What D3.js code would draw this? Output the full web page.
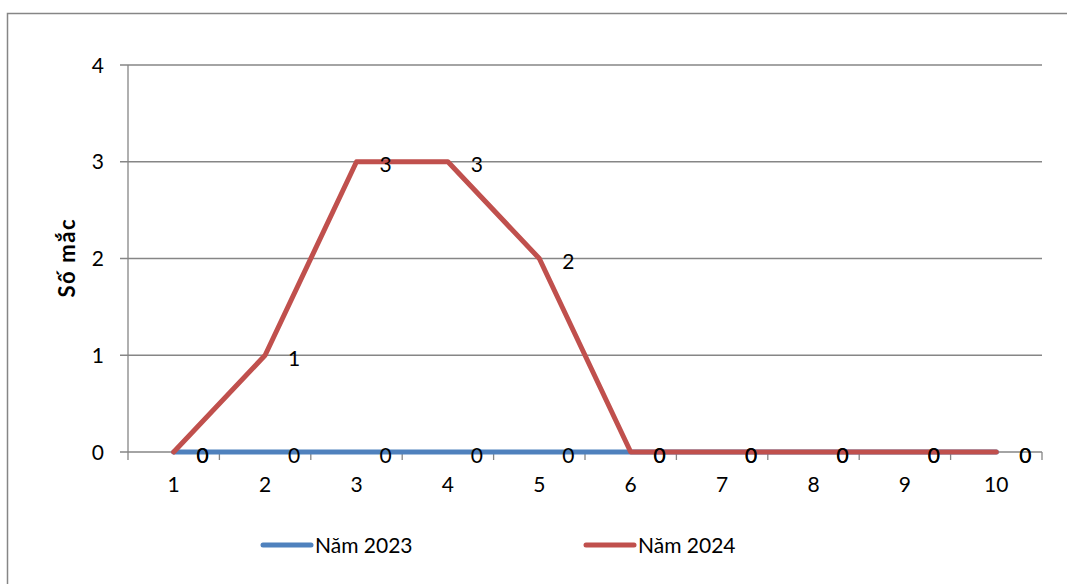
<!DOCTYPE html>
<html>
<head>
  <meta charset="UTF-8">
  <title>Số mắc</title>
  <script src="https://d3js.org/d3.v7.min.js"></script>
  <style>
    body { margin: 0; background: #fff; }
    svg { display: block; font-family: Lato, "Open Sans", sans-serif; }
    .grid line { stroke: #868686; stroke-width: 1.3px; }
    .label { font-size: 21px; fill: #000; }
    .legend text { font-size: 21px; fill: #000; }
  </style>
</head>
<body>
  <div id="chart"></div>
  <script>
    // 数据
    const categories = ["1", "2", "3", "4", "5", "6", "7", "8", "9", "10"];
    const seriesNames = ["Năm 2023", "Năm 2024"];
    const values2023 = [0, 0, 0, 0, 0, 0, 0, 0, 0, 0];
    const values2024 = [0, 1, 3, 3, 2, 0, 0, 0, 0, 0];
    const colors = ["#4F81BD", "#C0504D"];
    const yTicks = [0, 1, 2, 3, 4];

    const W = 1067, H = 584;
    const plot = {left: 128, right: 1042, top: 65, bottom: 452};

    const svg = d3.select("#chart").append("svg")
        .attr("width", W)
        .attr("height", H);

    // 外框
    svg.append("rect")
        .attr("x", 7.5).attr("y", 13.5)
        .attr("width", W + 10).attr("height", H + 10)
        .attr("fill", "none")
        .attr("stroke", "#868686")
        .attr("stroke-width", 1.5);

    const x = d3.scaleBand().domain(categories).range([plot.left, plot.right]);
    const y = d3.scaleLinear().domain([0, 4]).range([plot.bottom, plot.top]);

    // 网格线
    svg.append("g").attr("class", "grid")
      .selectAll("line").data(yTicks).join("line")
        .attr("x1", plot.left - 8).attr("x2", plot.right)
        .attr("y1", d => y(d)).attr("y2", d => y(d));

    // y 轴
    svg.append("line")
        .attr("x1", plot.left).attr("x2", plot.left)
        .attr("y1", plot.top).attr("y2", plot.bottom)
        .attr("stroke", "#868686").attr("stroke-width", 1.3);

    svg.append("g").selectAll("text").data(yTicks).join("text")
        .attr("class", "label")
        .attr("x", plot.left - 24)
        .attr("y", d => y(d))
        .attr("dy", "0.36em")
        .attr("text-anchor", "end")
        .text(d => d);

    // x 轴刻度
    const xTickPos = categories.map((c, i) => plot.left + x.step() * (i + 1));
    svg.append("g").selectAll("line").data(xTickPos).join("line")
        .attr("x1", d => d).attr("x2", d => d)
        .attr("y1", plot.bottom).attr("y2", plot.bottom + 8)
        .attr("stroke", "#868686").attr("stroke-width", 1.3);
    svg.append("line")
        .attr("x1", plot.left).attr("x2", plot.left)
        .attr("y1", plot.bottom).attr("y2", plot.bottom + 8)
        .attr("stroke", "#868686").attr("stroke-width", 1.3);

    svg.append("g").selectAll("text").data(categories).join("text")
        .attr("class", "label")
        .attr("x", d => x(d) + x.bandwidth() / 2)
        .attr("y", plot.bottom + 40)
        .attr("text-anchor", "middle")
        .text(d => d);

    // y 轴标题
    svg.append("text")
        .attr("transform", `translate(75, ${y(2)}) rotate(-90)`)
        .attr("text-anchor", "middle")
        .attr("font-size", 22)
        .attr("font-weight", "bold")
        .attr("textLength", 78)
        .attr("lengthAdjust", "spacing")
        .text("Số mắc");

    // 折线
    const series = [values2023, values2024];
    const line = d3.line()
        .x((d, i) => x(categories[i]) + x.bandwidth() / 2)
        .y(d => y(d));

    series.forEach((vals, s) => {
      svg.append("path")
          .datum(vals)
          .attr("fill", "none")
          .attr("stroke", colors[s])
          .attr("stroke-width", 5)
          .attr("stroke-linejoin", "round")
          .attr("stroke-linecap", "round")
          .attr("d", line);
    });

    // 数据标签
    series.forEach(vals => {
      svg.append("g").selectAll("text").data(vals).join("text")
          .attr("class", "label")
          .attr("x", (d, i) => x(categories[i]) + x.bandwidth() / 2 + 29)
          .attr("y", d => y(d) + 3)
          .attr("dy", "0.36em")
          .attr("text-anchor", "middle")
          .text(d => d);
    });

    // 图例
    const legendX = [263, 586];
    const legend = svg.append("g").attr("class", "legend");
    seriesNames.forEach((name, s) => {
      legend.append("line")
          .attr("x1", legendX[s]).attr("x2", legendX[s] + 48)
          .attr("y1", 545).attr("y2", 545)
          .attr("stroke", colors[s])
          .attr("stroke-width", 5)
          .attr("stroke-linecap", "round");
      legend.append("text")
          .attr("x", legendX[s] + 52)
          .attr("y", 545)
          .attr("dy", "0.36em")
          .text(name);
    });
  </script>
</body>
</html>
